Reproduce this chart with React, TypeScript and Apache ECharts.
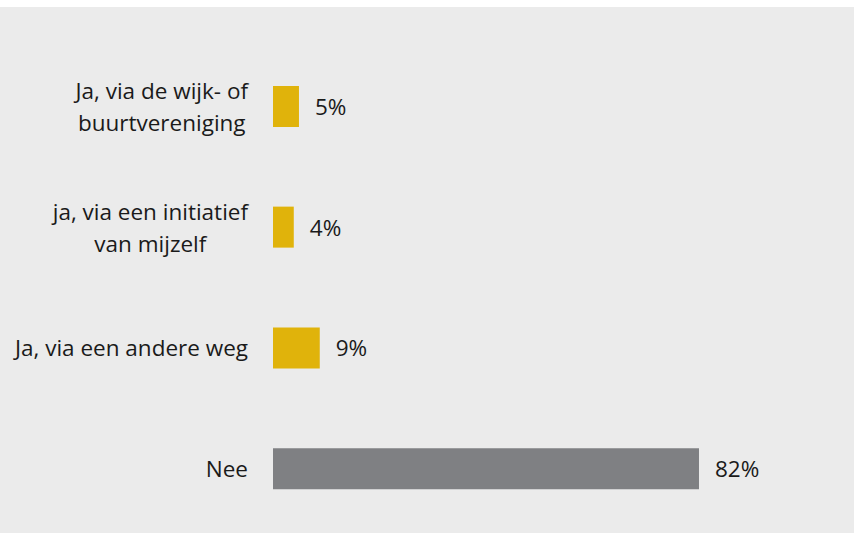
import React, { useEffect, useRef } from "react";
import * as echarts from "echarts";

const categories: string[][] = [
  ["Ja, via de wijk- of", "buurtvereniging"],
  ["ja, via een initiatief", "van mijzelf"],
  ["Ja, via een andere weg"],
  ["Nee"],
];
const values: number[] = [5, 4, 9, 82];
const barColors: string[] = ["#E0B30B", "#E0B30B", "#E0B30B", "#7F8083"];

export default function App() {
  const ref = useRef<HTMLDivElement>(null);
  useEffect(() => {
    if (!ref.current) return;
    const chart = echarts.init(ref.current, null, { renderer: "svg" });
    const font = "'Open Sans', 'Noto Sans', sans-serif";
    chart.setOption({
      animation: false,
      backgroundColor: "#EBEBEB",
      grid: { left: 273, right: 61.5, top: 39, bottom: 4, containLabel: false },
      xAxis: {
        type: "value",
        min: 0,
        max: 100,
        show: false,
      },
      yAxis: {
        type: "category",
        inverse: true,
        data: categories.map((c) => c.join("\n")),
        axisLine: { show: false },
        axisTick: { show: false },
        axisLabel: {
          margin: 25,
          fontFamily: font,
          fontSize: 22.5,
          color: "#1A1A1A",
          lineHeight: 32,
          formatter: (v: string) =>
            v
              .split("\n")
              .map((l) => `{a|${l}}`)
              .join("\n"),
          rich: {
            a: {
              fontFamily: font,
              fontSize: 22.5,
              color: "#1A1A1A",
              lineHeight: 32,
              align: "center",
            },
          },
        },
      },
      series: [
        {
          type: "bar",
          barWidth: 41,
          data: values.map((v, i) => ({ value: v, itemStyle: { color: barColors[i] } })),
          label: {
            show: true,
            position: "right",
            distance: 16,
            fontFamily: font,
            fontSize: 22.5,
            color: "#1A1A1A",
            formatter: (p: any) => `${p.value}%`,
          },
        },
      ],
    });
    return () => chart.dispose();
  }, []);
  return (
    <div
      ref={ref}
      style={{ position: "absolute", left: 0, top: 7, width: 854, height: 526 }}
    />
  );
}
